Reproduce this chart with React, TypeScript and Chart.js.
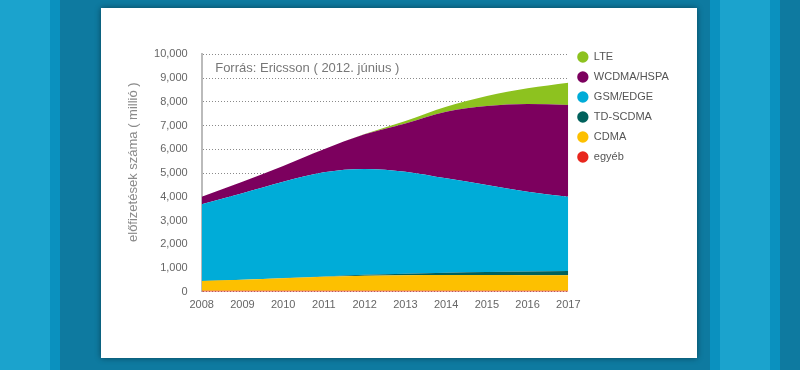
import React, { useEffect, useRef } from "react";
import { Chart, registerables } from "chart.js";

Chart.register(...registerables);

const years = ["2008", "2009", "2010", "2011", "2012", "2013", "2014", "2015", "2016", "2017"];
const otherValues = [40, 40, 40, 40, 40, 40, 40, 40, 40, 40];
const cdmaValues = [410, 460, 530, 590, 630, 650, 660, 660, 655, 650];
const tdscdmaValues = [0, 0, 5, 15, 40, 70, 100, 130, 155, 180];
const gsmValues = [3230, 3645, 4055, 4385, 4460, 4295, 3975, 3665, 3365, 3130];
const wcdmaValues = [320, 485, 665, 970, 1460, 2035, 2805, 3325, 3690, 3865];
const lteValues = [0, 0, 0, 0, 10, 100, 210, 425, 665, 940];

const seriesNames = ["egyéb", "CDMA", "TD-SCDMA", "GSM/EDGE", "WCDMA/HSPA", "LTE"];
const seriesColors = ["#e8261d", "#fdc000", "#00615c", "#00acd8", "#7c005e", "#8dc21f"];
const seriesValues = [otherValues, cdmaValues, tdscdmaValues, gsmValues, wcdmaValues, lteValues];

const yTicksMax = 10000;
const yTicksStep = 1000;
const yTitle = "      előfizetések száma ( millió )";
const sourceNote = "Forrás: Ericsson ( 2012. június )";

const FONT = "'Liberation Sans', Arial, Helvetica, sans-serif";

const sourcePlugin = {
  id: "sourceNote",
  afterDatasetsDraw(chart: any) {
    const { ctx, chartArea } = chart;
    ctx.save();
    ctx.font = `13px ${FONT}`;
    ctx.fillStyle = "#777";
    ctx.textBaseline = "middle";
    ctx.textAlign = "left";
    ctx.fillText(sourceNote, chartArea.left + 13.5, chartArea.top + 14);
    ctx.restore();
  },
};

function StackedArea() {
  const ref = useRef<HTMLCanvasElement | null>(null);
  useEffect(() => {
    if (!ref.current) return;
    const chart = new Chart(ref.current, {
      type: "line",
      data: {
        labels: years,
        datasets: seriesNames.map((name, i) => ({
          label: name,
          data: seriesValues[i],
          backgroundColor: seriesColors[i],
          borderColor: seriesColors[i],
          borderWidth: 0,
          pointRadius: 0,
          pointStyle: "circle",
          fill: i === 0 ? "origin" : "-1",
          cubicInterpolationMode: "monotone",
        })),
      },
      plugins: [sourcePlugin],
      options: {
        responsive: false,
        animation: false,
        devicePixelRatio: 1,
        locale: "en-US",
        events: [],
        layout: { padding: { top: 34.5, left: 20.7, right: 18.2, bottom: 36.3 } },
        scales: {
          x: {
            grid: { display: false, drawTicks: false },
            border: { display: false },
            ticks: { color: "#666", font: { size: 11, family: FONT }, padding: 7, maxRotation: 0, autoSkip: false },
            afterFit(scale: any) {
              scale.height = 30;
            },
          },
          y: {
            stacked: true,
            min: 0,
            max: yTicksMax,
            ticks: { stepSize: yTicksStep, color: "#666", font: { size: 11, family: FONT }, padding: 14 },
            grid: { color: "#8a8a8a", lineWidth: 1, drawTicks: false },
            border: { display: true, color: "#bbbbbb", width: 2, dash: [1, 2] },
            title: {
              display: true,
              text: yTitle,
              color: "#8a8a8a",
              font: { size: 13, family: FONT },
              padding: { top: 4, bottom: 0 },
            },
            afterFit(scale: any) {
              scale.width = 80;
            },
          },
        },
        plugins: {
          title: { display: true, text: "", font: { size: 1 }, padding: { top: 0, bottom: 10.6 } },
          tooltip: { enabled: false },
          legend: {
            position: "right",
            align: "start",
            reverse: true,
            labels: {
              usePointStyle: true,
              boxWidth: 11,
              boxHeight: 8,
              padding: 9,
              color: "#555",
              font: { size: 11, family: FONT },
            },
          },
        },
      },
    } as any);
    return () => chart.destroy();
  }, []);
  return <canvas ref={ref} width={596} height={350} style={{ display: "block" }} />;
}

export default function App() {
  const stripes =
    "linear-gradient(to right, #1ba3cd 0px, #1ba3cd 50px, #0a91bf 50px, #0a91bf 60px, #0e7aa0 60px, #0e7aa0 710px, #0a91bf 710px, #0a91bf 720px, #1ba3cd 720px, #1ba3cd 770px, #0a91bf 770px, #0a91bf 780px, #0e7aa0 780px, #0e7aa0 800px)";
  return (
    <div style={{ position: "absolute", left: 0, top: 0, width: 800, height: 370, background: stripes, overflow: "hidden" }}>
      <div
        style={{
          position: "absolute",
          left: 101,
          top: 8,
          width: 596,
          height: 350,
          background: "#ffffff",
          boxShadow: "0 0 6px rgba(0,0,0,0.45)",
        }}
      >
        <StackedArea />
      </div>
    </div>
  );
}
